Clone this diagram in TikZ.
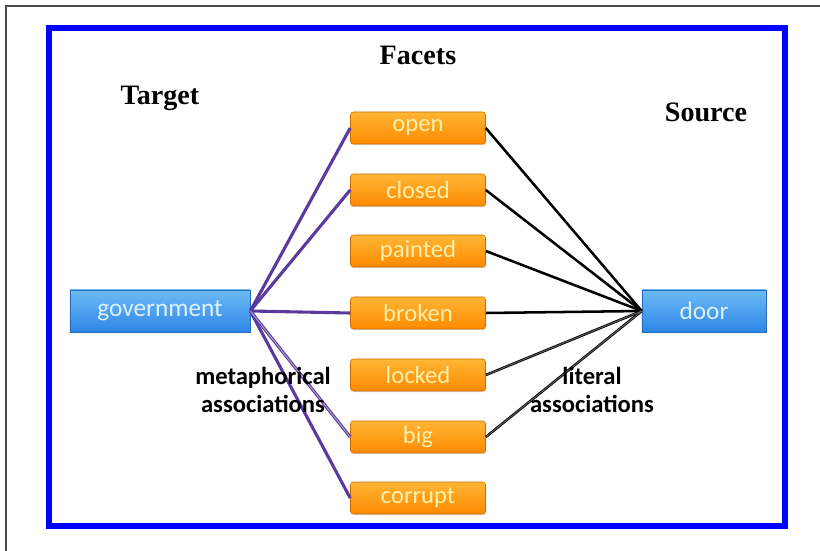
\documentclass[tikz,border=0pt]{standalone}
\usepackage{fontspec}
\setmainfont{Carlito}
\newfontfamily\headfont{Liberation Serif}
\usepackage{xcolor}
\usetikzlibrary{positioning,calc,shadows}

\definecolor{facetTop}{HTML}{FFB636}
\definecolor{facetBot}{HTML}{FF8A00}
\definecolor{facetText}{HTML}{FFF0A8}
\definecolor{termTop}{HTML}{6CBBF5}
\definecolor{termBot}{HTML}{2E86E6}
\definecolor{termText}{HTML}{DDF0FF}
\definecolor{metaPurple}{HTML}{5A3A9E}

\tikzset{
  facet/.style={draw=facetBot!80!black, line width=0.4pt, rounded corners=2pt,
    top color=facetTop, bottom color=facetBot, text=facetText,
    minimum width=3.375cm, minimum height=0.8cm, inner sep=0pt,
    font=\fontsize{17.5}{19}\selectfont,
    drop shadow={opacity=0.25, shadow xshift=0.6pt, shadow yshift=-0.8pt}},
  term/.style={draw=termBot!80!black, line width=0.4pt,
    top color=termTop, bottom color=termBot, text=termText,
    minimum height=1.05cm, inner sep=0pt,
    font=\fontsize{18}{19}\selectfont,
    drop shadow={opacity=0.25, shadow xshift=0.6pt, shadow yshift=-0.8pt}},
  heading/.style={font=\headfont\bfseries\fontsize{20}{22}\selectfont},
  tag/.style={font=\bfseries\fontsize{17.5}{19.5}\selectfont, align=center},
  metaline/.style={metaPurple, line width=2.2pt},
  litline/.style={black, line width=1.8pt}
}

\begin{document}
\begin{tikzpicture}[x=0.025cm, y=-0.025cm]
    \useasboundingbox (0,0) rectangle (820,551);
    \draw[gray!60!black, line width=0.9pt] (6,551) -- (6,6) -- (820,6); % outer edge
    \draw[blue, line width=3.6pt] (49,28) rectangle (785,526); % frame

    % Facets
    \node[facet] (open)    at (418,128) {open};
    \node[facet] (closed)  at (418,190) {closed};
    \node[facet] (painted) at (418,251) {painted};
    \node[facet] (broken)  at (418,313) {broken};
    \node[facet] (locked)  at (418,375) {locked};
    \node[facet] (big)     at (418,437) {big};
    \node[facet] (corrupt) at (418,498) {corrupt};

    % Target and source
    \node[term, minimum width=4.5cm] (gov)  at (160,311) {government};
    \node[term, minimum width=3.1cm] (door) at (704,311) {door};

    % Associations
    \foreach \f in {open,closed,broken,big,corrupt} \draw[metaline] (gov.east) -- (\f.west);
    \draw[metaline, white, opacity=0.45, line width=0.8pt] (gov.east) -- (big.west);
    \foreach \f in {open,closed,painted,broken,locked,big} \draw[litline] (door.west) -- (\f.east);
    \draw[gray, line width=0.7pt, opacity=0.7] (door.west) -- (locked.east);
    \draw[gray, line width=0.7pt, opacity=0.7] (door.west) -- (big.east);

    \node[heading] (facets) at (418,55)  {Facets};
    \node[heading] (target) at (160,98)  {Target};
    \node[heading] (source) at (706,112) {Source};
    \node[tag] (meta) at (263,390) {metaphorical\\associations};
    \node[tag] (lit)  at (592,390) {literal\\associations};
\end{tikzpicture}
\end{document}
